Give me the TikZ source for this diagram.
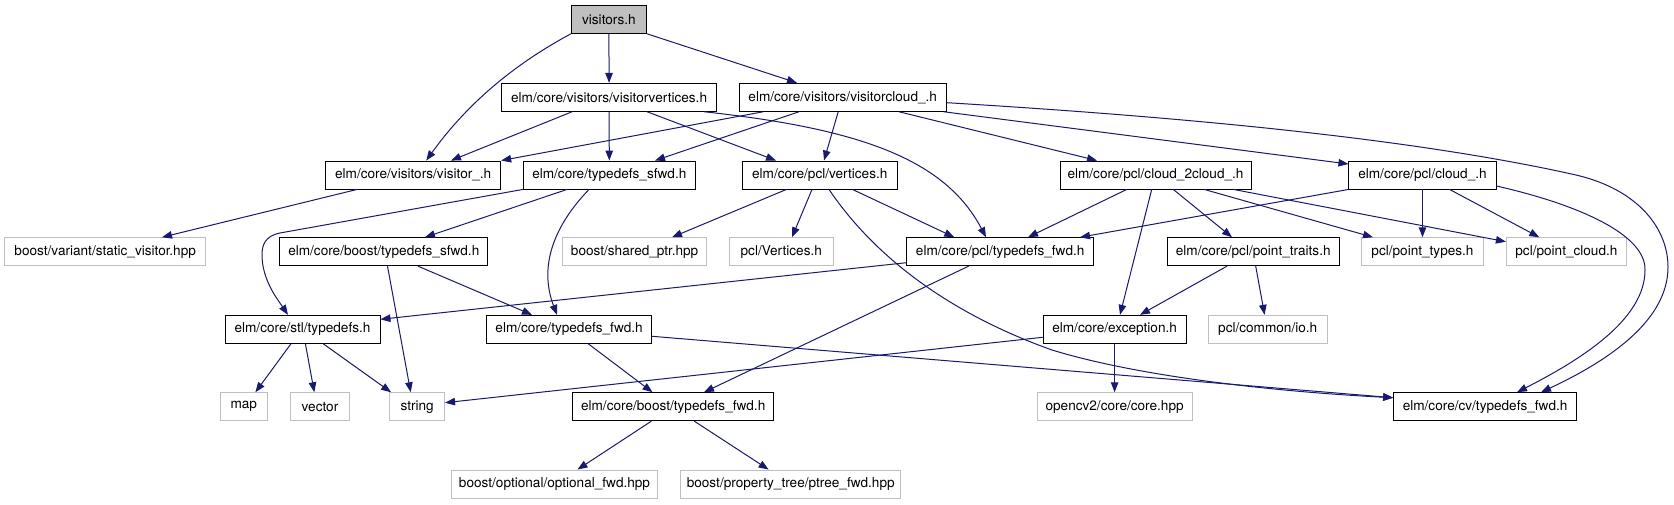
\documentclass[tikz,border=0pt]{standalone}
\usepackage{fontspec}
\setmainfont{TeX Gyre Heros}
\usetikzlibrary{arrows.meta}
\definecolor{edgec}{HTML}{191970}
\definecolor{extc}{HTML}{BFBFBF}
\begin{document}
\begin{tikzpicture}[x=1pt,y=-1pt,
 box/.style={draw=black,line width=0.9pt,fill=white,rectangle,minimum height=28pt,inner sep=0pt,font=\fontsize{13.6}{16}\selectfont},
 doc/.style={box},
 ext/.style={box,draw=extc},
 root/.style={box,fill=extc},
 dep/.style={draw=edgec,line width=1pt,-{Triangle[length=10pt,width=7.5pt]}}]
\useasboundingbox[fill=white] (0,0) rectangle (1674,504);
% row 1
\node[root,minimum width=75pt] (vis) at (608.9,19.3) {visitors.h};
% row 2
\node[doc,minimum width=214.6pt] (vv) at (609.1,97.3) {elm/core/visitors/visitorvertices.h};
\node[doc,minimum width=207.5pt] (vc) at (842.7,97.3) {elm/core/visitors/visitorcloud\_.h};
% row 3
\node[doc,minimum width=175pt] (vu) at (413.2,175) {elm/core/visitors/visitor\_.h};
\node[doc,minimum width=172.2pt] (tsf) at (609.3,175) {elm/core/typedefs\_sfwd.h};
\node[doc,minimum width=154.6pt] (pv) at (819.8,175) {elm/core/pcl/vertices.h};
\node[doc,minimum width=191pt] (c2c) at (1155.5,175) {elm/core/pcl/cloud\_2cloud\_.h};
\node[doc,minimum width=147.2pt] (cl) at (1422.5,175) {elm/core/pcl/cloud\_.h};
% row 4
\node[ext,minimum width=201pt] (sv) at (105.2,251.7) {boost/variant/static\_visitor.hpp};
\node[doc,minimum width=208.2pt] (btsf) at (383.8,251.7) {elm/core/boost/typedefs\_sfwd.h};
\node[ext,minimum width=144.3pt] (sp) at (634.6,251.7) {boost/shared\_ptr.hpp};
\node[ext,minimum width=103.3pt] (pV) at (781.3,251.7) {pcl/Vertices.h};
\node[doc,minimum width=186.8pt] (ptf) at (1000.2,251.7) {elm/core/pcl/typedefs\_fwd.h};
\node[doc,minimum width=172.4pt] (pt) at (1253.2,251.7) {elm/core/pcl/point\_traits.h};
\node[ext,minimum width=121.6pt] (pty) at (1422.5,251.7) {pcl/point\_types.h};
\node[ext,minimum width=120.1pt] (pc) at (1566.4,251.7) {pcl/point\_cloud.h};
% row 5
\node[doc,minimum width=155pt] (stl) at (302.5,329.3) {elm/core/stl/typedefs.h};
\node[doc,minimum width=165.4pt] (etf) at (569.1,329.3) {elm/core/typedefs\_fwd.h};
\node[doc,minimum width=142.9pt] (exc) at (1114.6,329.3) {elm/core/exception.h};
\node[ext,minimum width=118.9pt] (io) at (1267.7,329.3) {pcl/common/io.h};
% row 6
\node[ext,minimum width=46.8pt] (map) at (243.8,406.7) {map};
\node[ext,minimum width=58.6pt] (vec) at (320,406.7) {vector};
\node[ext,minimum width=55pt] (str) at (417.1,406.7) {string};
\node[doc,minimum width=201.4pt] (btf) at (673.2,406.7) {elm/core/boost/typedefs\_fwd.h};
\node[ext,minimum width=155pt] (ocv) at (1114.6,406.7) {opencv2/core/core.hpp};
\node[doc,minimum width=183pt] (cv) at (1485.1,406.7) {elm/core/cv/typedefs\_fwd.h};
% row 7
\node[ext,minimum width=205.3pt] (opt) at (554.5,484) {boost/optional/optional\_fwd.hpp};
\node[ext,minimum width=220pt] (ptr) at (790.7,484) {boost/property\_tree/ptree\_fwd.hpp};

% edges from visitors.h
\draw[dep] (vis.south west) .. controls +(-52,28) and +(44,-61) .. ([xshift=13pt]vu.north);
\draw[dep] (vis.south) -- (vv.north);
\draw[dep] (vis.south east) -- ([xshift=-45.7pt]vc.north);
% from visitorvertices.h
\draw[dep] ([xshift=-37pt]vv.south) -- ([xshift=37.8pt]vu.north);
\draw[dep] (vv.south) -- (tsf.north);
\draw[dep] ([xshift=38pt]vv.south) -- ([xshift=-43.8pt]pv.north);
\draw[dep] ([xshift=95pt]vv.south) .. controls +(156,17) and +(-41,-78) .. ([xshift=-14.2pt]ptf.north);
% from visitorcloud_.h
\draw[dep] ([xshift=-79.5pt]vc.south) -- (vu.north east);
\draw[dep] ([xshift=-43.7pt]vc.south) -- ([xshift=45.7pt]tsf.north);
\draw[dep] ([xshift=-4.5pt]vc.south) -- ([xshift=4.2pt]pv.north);
\draw[dep] ([xshift=56.3pt]vc.south) -- ([xshift=-58.5pt]c2c.north);
\draw[dep] ([xshift=101pt]vc.south) -- ([yshift=11pt]cl.west);
\draw[dep] ([yshift=-5.4pt]vc.east) .. controls (1200,118) and (1420,140) .. (1576,175)
   .. controls (1640,190) and (1668,230) .. (1668,267)
   .. controls (1668,320) and (1610,360) .. ([xshift=55.9pt]cv.north);
% from visitor_.h
\draw[dep] ([xshift=-56.2pt]vu.south) -- ([xshift=56.8pt]sv.north);
% from typedefs_sfwd.h
\draw[dep] (tsf.south west) -- (280,233) .. controls (265,236) and (262,245) .. (262,255)
   .. controls (262,280) and (278,300) .. ([xshift=-14.5pt]stl.north);
\draw[dep] ([xshift=-42.3pt]tsf.south) -- ([xshift=41.2pt]btsf.north);
\draw[dep] ([xshift=-20.3pt]tsf.south) .. controls (550,230) and (540,270) .. ([xshift=-12.1pt]etf.north);
% from pcl/vertices.h
\draw[dep] ([xshift=-33.4pt]pv.south) -- ([xshift=37.4pt]sp.north);
\draw[dep] ([xshift=-7.8pt]pv.south) -- ([xshift=10.7pt]pV.north);
\draw[dep] ([xshift=32.7pt]pv.south) -- ([xshift=-45.9pt]ptf.north);
\draw[dep] ([xshift=9.2pt]pv.south) .. controls (870,250) and (940,310) .. (1052,350)
   .. controls (1150,380) and (1300,393) .. ([yshift=9pt]cv.west);
% from cloud_2cloud_.h
\draw[dep] ([xshift=-28.8pt]c2c.south) -- ([xshift=27.8pt]ptf.north);
\draw[dep] ([xshift=-3.8pt]c2c.south) -- ([xshift=5.4pt]exc.north);
\draw[dep] ([xshift=17.8pt]c2c.south) -- ([xshift=-21.2pt]pt.north);
\draw[dep] ([xshift=48.8pt]c2c.south) -- ([xshift=-49.5pt]pty.north);
\draw[dep] ([xshift=78.1pt]c2c.south) -- ([yshift=10pt]pc.west);
% from cloud_.h
\draw[dep] (cl.south west) -- ([xshift=79.8pt]ptf.north);
\draw[dep] (cl.south) -- (pty.north);
\draw[dep] ([xshift=27.1pt]cl.south) -- ([xshift=-27.1pt]pc.north);
\draw[dep] ([yshift=-11pt]cl.east) .. controls (1580,205) and (1646,235) .. (1645,270)
   .. controls (1645,320) and (1580,360) .. ([xshift=31.9pt]cv.north);
% from boost/typedefs_sfwd.h
\draw[dep] ([xshift=3.7pt]btsf.south) -- ([xshift=-6.4pt]str.north);
\draw[dep] ([xshift=34.2pt]btsf.south) -- ([xshift=-37.1pt]etf.north);
% from pcl/typedefs_fwd.h
\draw[dep] ([yshift=-11pt]ptf.west) -- ([yshift=10pt]stl.east);
\draw[dep] ([xshift=-31.6pt]ptf.south) -- ([xshift=30.8pt]btf.north);
% from point_traits.h
\draw[dep] ([xshift=-26.2pt]pt.south) -- ([xshift=25.4pt]exc.north);
\draw[dep] ([xshift=2.5pt]pt.south) -- ([xshift=-3.1pt]io.north);
% from stl/typedefs.h
\draw[dep] ([xshift=-11.5pt]stl.south) -- ([xshift=11.6pt]map.north);
\draw[dep] ([xshift=2.9pt]stl.south) -- ([xshift=-5.7pt]vec.north);
\draw[dep] ([xshift=20.7pt]stl.south) -- ([xshift=-26pt]str.north);
% from elm/core/typedefs_fwd.h
\draw[dep] ([xshift=19.1pt]etf.south) -- ([xshift=-20.7pt]btf.north);
\draw[dep] ([yshift=-7pt]etf.east) -- ([yshift=9pt]cv.west);
% from exception.h
\draw[dep] ([yshift=-8pt]exc.west) -- ([yshift=4pt]str.east);
\draw[dep] (exc.south) -- (ocv.north);
% from boost/typedefs_fwd.h
\draw[dep] ([xshift=-21.8pt]btf.south) -- ([xshift=23pt]opt.north);
\draw[dep] ([xshift=21.1pt]btf.south) -- ([xshift=-22.1pt]ptr.north);
\end{tikzpicture}
\end{document}
